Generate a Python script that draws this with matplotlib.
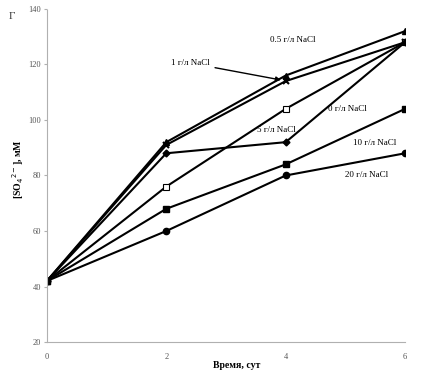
import matplotlib
matplotlib.use("Agg")
import matplotlib.pyplot as plt

plt.rcParams['font.family'] = ['Liberation Serif', 'DejaVu Serif']

days = [0, 2, 4, 6]
nacl_05 = [42, 92, 116, 132]
nacl_1 = [42, 91, 114, 128]
nacl_0 = [42, 76, 104, 128]
nacl_5 = [42, 88, 92, 128]
nacl_10 = [42, 68, 84, 104]
nacl_20 = [42, 60, 80, 88]

fig = plt.figure(figsize=(4.22, 3.71), dpi=100)
ax = fig.add_axes([0.111, 0.078, 0.849, 0.898])

lw = 1.5
ax.plot(days, nacl_05, color='black', lw=lw, marker='^', ms=5)
ax.plot(days, nacl_1, color='black', lw=lw, marker='x', ms=5, mew=1.5)
ax.plot(days, nacl_0, color='black', lw=lw, marker='s', ms=4.5, mfc='white', mew=0.8)
ax.plot(days, nacl_5, color='black', lw=lw, marker='D', ms=3.5)
ax.plot(days, nacl_10, color='black', lw=lw, marker='s', ms=5)
ax.plot(days, nacl_20, color='black', lw=lw, marker='o', ms=4.5)

fs = 6.5
ax.text(4.12, 128.8, '0.5 г/л NaCl', fontsize=fs, ha='center', va='center')
ax.annotate('1 г/л NaCl', xy=(3.92, 114.4), xytext=(2.4, 120.5), fontsize=fs,
            ha='center', va='center',
            arrowprops=dict(arrowstyle='-|>', color='black', lw=1.0,
                            mutation_scale=7, shrinkA=2, shrinkB=0))
ax.text(5.04, 104, '0 г/л NaCl', fontsize=fs, ha='center', va='center')
ax.text(3.85, 96.4, '5 г/л NaCl', fontsize=fs, ha='center', va='center')
ax.text(5.49, 91.7, '10 г/л NaCl', fontsize=fs, ha='center', va='center')
ax.text(5.36, 80.2, '20 г/л NaCl', fontsize=fs, ha='center', va='center')

ax.set_xlim(0, 6)
ax.set_ylim(20, 140)
ax.set_xticks([0, 2, 4, 6])
ax.set_yticks(range(20, 141, 20))

for s in ['top', 'right']:
    ax.spines[s].set_visible(False)
ax.spines['left'].set_color('#b0b0b0')
ax.spines['left'].set_linestyle((0, (1, 1)))
ax.spines['left'].set_linewidth(0.8)
ax.spines['bottom'].set_color('#b0b0b0')
ax.spines['bottom'].set_linewidth(0.8)

ax.tick_params(axis='y', length=2, color='#b0b0b0', labelsize=6, labelcolor='#555555', pad=2)
ax.tick_params(axis='x', length=0, labelsize=6, labelcolor='#555555', pad=8)

ax.set_xlabel('Время, сут', fontsize=7, fontweight='bold')
ax.xaxis.set_label_coords(0.53, -0.058)
ax.set_ylabel('[SO$_4$$^{2-}$], мМ', fontsize=7, fontweight='bold')
ax.yaxis.set_label_coords(-0.058, 0.52)

fig.text(0.028, 0.955, 'Г', fontsize=8, ha='center', va='center', color='#333333')

fig.savefig('out.png', dpi=100)
